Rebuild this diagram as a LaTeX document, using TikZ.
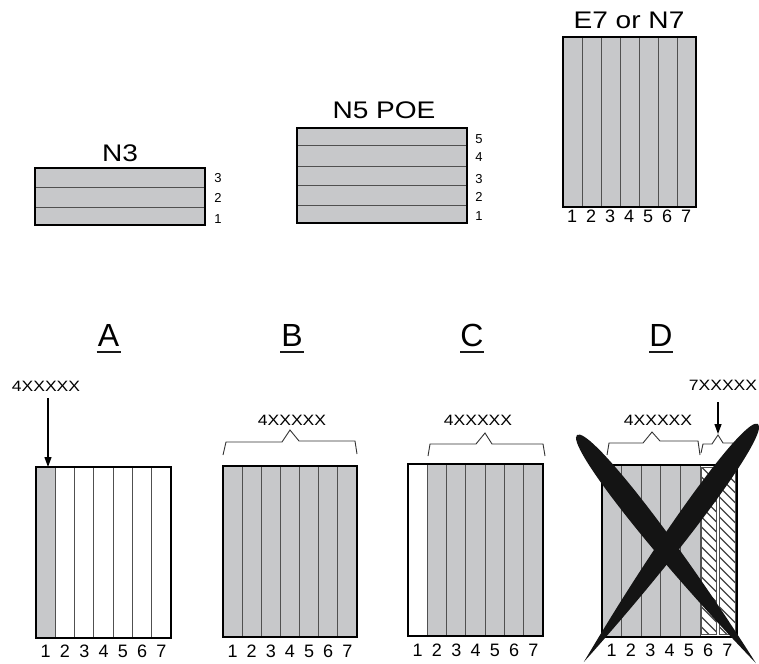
\documentclass[tikz,border=0pt]{standalone}
\usepackage{fontspec}
\setmainfont{Liberation Sans}
\newfontfamily\widefont[FakeStretch=1.17]{Liberation Sans}
\usetikzlibrary{arrows.meta}
\definecolor{panel}{RGB}{199,200,202}
\definecolor{divider}{RGB}{80,80,80}
\begin{document}
\begin{tikzpicture}[x=1pt,y=-1pt,
  outline/.style={draw=black,line width=1.4pt},
  divline/.style={draw=divider,line width=1pt},
  hatchline/.style={draw=black!75,line width=1.1pt},
  title/.style={font=\widefont\fontsize{24}{28}\selectfont,anchor=base,inner sep=0pt},
  part/.style={font=\widefont\fontsize{15}{18}\selectfont,anchor=base,inner sep=0pt},
  small/.style={font=\fontsize{13}{15}\selectfont,anchor=base,inner sep=0pt},
  num/.style={font=\fontsize{18}{20}\selectfont,anchor=base,inner sep=0pt},
  letter/.style={font=\fontsize{32}{36}\selectfont,anchor=base,inner sep=0pt},
  ulinestyle/.style={draw=black!90,line width=2pt},
  brace/.style={draw=black!80,line width=0.9pt,line join=miter},
  pointer/.style={draw=black,line width=1.2pt,-{Triangle[length=10pt,width=7pt]}},
  cross/.style={fill=black!92}
]
\useasboundingbox (0,0) rectangle (759,663);

% ---------- N3 ----------
\node[title] (tN3) at (120,161) {N3};
\fill[panel] (35,168) rectangle (205,225);
\draw[divline] (35,187) -- (205,187);
\draw[divline] (35,207) -- (205,207);
\draw[outline] (35,168) rectangle (205,225);
\node[small] (n3a) at (218,182) {3};
\node[small] (n3b) at (218,202) {2};
\node[small] (n3c) at (218,223) {1};

% ---------- N5 POE ----------
\node[title] (tN5) at (384,119) {N5 POE};
\fill[panel] (297,128) rectangle (467,223);
\foreach \yy in {146,166,185,205} \draw[divline] (297,\yy) -- (467,\yy);
\draw[outline] (297,128) rectangle (467,223);
\node[small] (n5e) at (479,143) {5};
\node[small] (n5d) at (479,161) {4};
\node[small] (n5c) at (479,183) {3};
\node[small] (n5b) at (479,201) {2};
\node[small] (n5a) at (479,220) {1};

% ---------- E7 or N7 ----------
\node[title] (tE7) at (629,29) {E7 or N7};
\fill[panel] (563,37) rectangle (696,207);
\foreach \i in {1,...,6} \draw[divline] (563+\i*19,37) -- (563+\i*19,207);
\draw[outline] (563,37) rectangle (696,207);
\foreach \i in {1,...,7} \node[num] (e\i) at (563+\i*19-10,222) {\i};

% ---------- headings ----------
\node[letter] (hA) at (108.5,346) {A};
\draw[ulinestyle] (96.5,352) -- (120.5,352);
\node[letter] (hB) at (292,346) {B};
\draw[ulinestyle] (280,352) -- (304,352);
\node[letter] (hC) at (472,346) {C};
\draw[ulinestyle] (460,352) -- (484,352);
\node[letter] (hD) at (661,346) {D};
\draw[ulinestyle] (649,352) -- (673,352);

% ---------- A ----------
\fill[panel] (36,467) rectangle (55.3,638);
\foreach \i in {1,...,6} \draw[divline] (36+\i*19.29,467) -- (36+\i*19.29,638);
\draw[outline] (36,467) rectangle (171,638);
\foreach \i in {1,...,7} \node[num] (a\i) at (36+\i*19.29-9.6,657) {\i};
\node[part] (labA) at (46,391) {4XXXXX};
\coordinate (tipA) at (48,467);
\draw[pointer,shorten <=7pt] (labA.south -| tipA) -- (tipA);

% ---------- B ----------
\fill[panel] (223,466) rectangle (357,637);
\foreach \i in {1,...,6} \draw[divline] (223+\i*19.14,466) -- (223+\i*19.14,637);
\draw[outline] (223,466) rectangle (357,637);
\foreach \i in {1,...,7} \node[num] (b\i) at (223+\i*19.14-9.6,657) {\i};
\node[part] (labB) at (292,425) {4XXXXX};
\draw[brace] (223,455) -- (226,442) -- (282,442) -- (290,430) -- (299,441) -- (355,441) -- (357,454);

% ---------- C ----------
\fill[panel] (427.3,464) rectangle (543,636);
\foreach \i in {1,...,6} \draw[divline] (408+\i*19.29,464) -- (408+\i*19.29,636);
\draw[outline] (408,464) rectangle (543,636);
\foreach \i in {1,...,7} \node[num] (c\i) at (408+\i*19.29-9.6,656) {\i};
\node[part] (labC) at (478,425) {4XXXXX};
\draw[brace] (428,456) -- (430,444) -- (476,444) -- (485,433) -- (492,444) -- (543,444) -- (545,456);

% ---------- D ----------
\fill[panel] (602,465) rectangle (700,637);
\foreach \i in {1,...,4} \draw[divline] (602+\i*19.6,465) -- (602+\i*19.6,637);
\draw[divline] (700,465) -- (700,637);
\begin{scope}
  \clip (701.5,467) rectangle (716.5,634);
  \foreach \k in {-30,-20,...,180} \draw[hatchline] (701.5,467+\k) -- ++(22,22);
\end{scope}
\draw[divline,line width=0.9pt] (701.5,467) rectangle (716.5,634);
\begin{scope}
  \clip (719.5,467) rectangle (735,634);
  \foreach \k in {-30,-20,...,180} \draw[hatchline] (719.5,467+\k) -- ++(22,22);
\end{scope}
\draw[divline,line width=0.9pt] (719.5,467) rectangle (735,634);
\draw[outline] (602,465) rectangle (737,637);
\foreach \i in {1,...,7} \node[num] (d\i) at (602+\i*19.29-9.6,656) {\i};
\node[part] (labD) at (658,425) {4XXXXX};
\draw[brace] (607,455) -- (609,443) -- (643,443) -- (652,432) -- (660,441) -- (698,441) -- (700,455);
\node[part] (lab7) at (723,390) {7XXXXX};
\draw[brace] (701,453) -- (703,444) -- (712,444) -- (718,435) -- (723,443) -- (733,443) -- (735,452);
\coordinate (tip7) at (718,434);
\draw[pointer,shorten <=12pt] (lab7.south -| tip7) -- (tip7);

% ---------- big cross (brush strokes: round top, pointed bottom) ----------
\begin{scope}[shift={(577,435)},rotate=-51.9]
  \fill[cross] (0,0) .. controls (0,14) and (130,16) .. (290,0)
                     .. controls (130,-16) and (0,-14) .. (0,0);
\end{scope}
\begin{scope}[shift={(758,424)},rotate=-126.2]
  \fill[cross] (0,0) .. controls (0,14) and (132,16) .. (295,0)
                     .. controls (132,-16) and (0,-14) .. (0,0);
\end{scope}
\end{tikzpicture}
\end{document}
